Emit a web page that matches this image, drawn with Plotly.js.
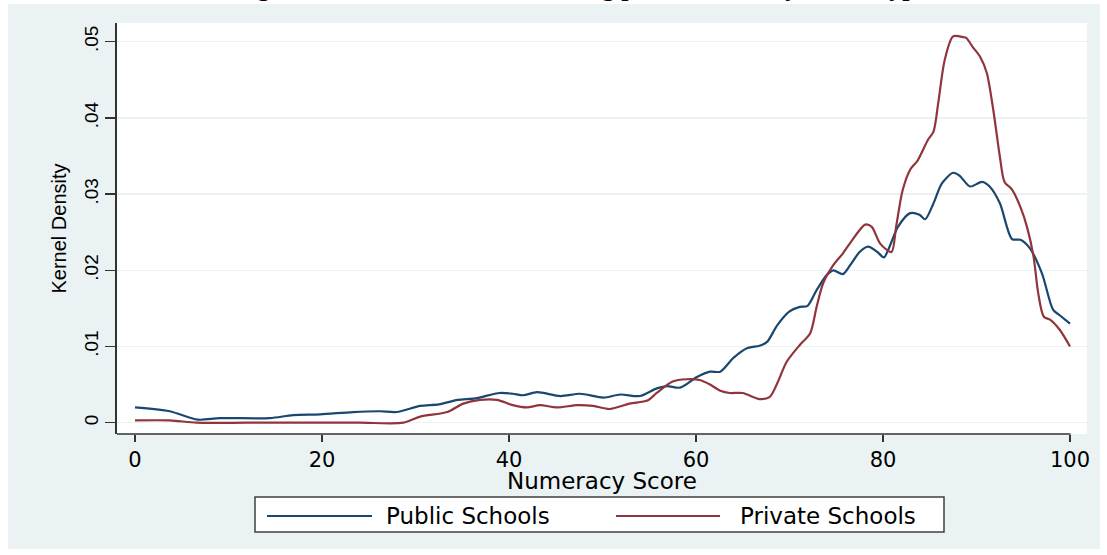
<!DOCTYPE html>
<html>
<head>
<meta charset="utf-8">
<script src="https://cdn.plot.ly/plotly-3.0.1.min.js"></script>
<style>html,body{margin:0;padding:0;background:#fff;}#chart{width:1107px;height:555px;}</style>
</head>
<body>
<div id="chart"></div>
<script>
// Public schools kernel density (numeracy score -> density)
const publicX = [0,3.7,6.7,9.1,14.4,16.9,19.8,23.3,26.2,28.0,30.5,32.5,34.5,36.4,39.0,40.4,41.5,43.0,45.5,47.6,50.1,51.9,54.0,55.8,56.9,58.3,60.1,61.5,62.6,64.0,65.5,66.8,67.6,68.7,70.0,71.1,71.9,72.9,74.0,74.7,75.7,76.5,77.5,78.4,79.4,80.1,80.7,81.6,82.9,83.9,84.5,85.4,86.3,87.5,88.2,89.3,90.6,91.4,92.5,93.8,94.7,95.7,97.0,98.2,98.9,100];
const publicY = [.0020,.0015,.0004,.0006,.0006,.0010,.0011,.0014,.0015,.0014,.0022,.0024,.0030,.0032,.0039,.0038,.0036,.0040,.0035,.0038,.0033,.0037,.0035,.0045,.0048,.0046,.0060,.0067,.0067,.0085,.0098,.0101,.0106,.0128,.0146,.0152,.0153,.0174,.0194,.0200,.0195,.0207,.0224,.0231,.0224,.0217,.0231,.0257,.0275,.0273,.0267,.0288,.0314,.0328,.0324,.0310,.0316,.0310,.0288,.0241,.0240,.0229,.0196,.0148,.0141,.0130];
// Private schools kernel density
const privateX = [0,3.7,6.6,12,18,24,28.7,30.5,33.4,35.1,36.9,38.7,40.4,41.9,43.3,45.1,47.3,49.0,50.8,52.9,54.8,55.8,57.5,59.0,60.4,61.5,62.6,63.6,65.0,66.8,67.9,68.7,69.7,71.1,72.2,72.9,73.6,74.7,75.7,76.5,78.1,78.8,79.7,80.9,81.4,82.1,82.9,83.7,84.8,85.4,85.9,86.6,87.5,88.6,88.9,89.6,90.4,91.1,91.8,92.5,93.0,93.8,94.7,95.4,96.1,96.6,97.2,97.9,98.9,100];
const privateY = [.0003,.0003,.0000,.0000,.0000,.0000,.0000,.0008,.0014,.0025,.0030,.0030,.0023,.0020,.0023,.0020,.0023,.0022,.0018,.0025,.0029,.0039,.0054,.0057,.0056,.0050,.0042,.0039,.0039,.0031,.0034,.0052,.0080,.0102,.0117,.0152,.0183,.0207,.0222,.0236,.0260,.0257,.0235,.0224,.0257,.0305,.0332,.0344,.0371,.0382,.0419,.0476,.0507,.0506,.0505,.0493,.0480,.0459,.0410,.0349,.0316,.0306,.0283,.0257,.0218,.0170,.0139,.0135,.0122,.0100];

const xTickVals = [0,20,40,60,80,100];
const xTickText = ["0","20","40","60","80","100"];
const yTickVals = [0,.01,.02,.03,.04,.05];
const yTickText = ["0",".01",".02",".03",".04",".05"];
const seriesNames = ["Public Schools","Private Schools"];
const xTitle = "Numeracy Score";
const yTitle = "Kernel Density";
const captionText = "Figure 5: Distribution of Learning performance by school type";

const blue = "#1a476f", red = "#90353b", bgBlue = "#eaf2f3", axisCol = "#333333";
const W = 1107, H = 555, L = 117, R = 20, T = 23, B = 121;
const pw = W - L - R, ph = H - T - B;
const px2x = p => (p - L) / pw;
const py2y = p => (H - B - p) / ph;

const traces = [
  {x: publicX, y: publicY, name: seriesNames[0], mode: "lines", line: {color: blue, width: 2.2, shape: "spline", smoothing: 0.8}, showlegend: false},
  {x: privateX, y: privateY, name: seriesNames[1], mode: "lines", line: {color: red, width: 2.2, shape: "spline", smoothing: 0.8}, showlegend: false}
];

const shapes = [
  {type: "rect", xref: "paper", yref: "paper", x0: px2x(8), x1: px2x(1100), y0: py2y(549), y1: py2y(4), fillcolor: bgBlue, line: {width: 0}, layer: "below"},
  {type: "rect", xref: "paper", yref: "paper", x0: 0, x1: 1, y0: 0, y1: 1, fillcolor: "#ffffff", line: {width: 0}, layer: "below"},
  // x axis line (spans to the last tick)
  {type: "line", xref: "paper", yref: "paper", x0: 0, x1: px2x(1070.5), y0: 0, y1: 0, line: {color: axisCol, width: 1.6}},
  // legend box and keys
  {type: "rect", xref: "paper", yref: "paper", x0: px2x(255), x1: px2x(944), y0: py2y(532), y1: py2y(497), fillcolor: "#ffffff", line: {color: "#404040", width: 1.5}},
  {type: "line", xref: "paper", yref: "paper", x0: px2x(267), x1: px2x(372), y0: py2y(516), y1: py2y(516), line: {color: blue, width: 2}},
  {type: "line", xref: "paper", yref: "paper", x0: px2x(616), x1: px2x(720), y0: py2y(516), y1: py2y(516), line: {color: red, width: 2}}
];

const annotations = [
  {text: seriesNames[0], xref: "paper", yref: "paper", x: px2x(384), y: py2y(516), xanchor: "left", yanchor: "middle", showarrow: false, font: {family: "DejaVu Sans", size: 23, color: "#000"}},
  {text: seriesNames[1], xref: "paper", yref: "paper", x: px2x(738), y: py2y(516), xanchor: "left", yanchor: "middle", showarrow: false, font: {family: "DejaVu Sans", size: 23, color: "#000"}},
  {text: xTitle, xref: "paper", yref: "paper", x: px2x(602), y: py2y(481), xanchor: "center", yanchor: "middle", showarrow: false, borderpad: 0, font: {family: "DejaVu Sans", size: 23, color: "#000"}},
  {text: "<b>" + captionText + "</b>", xref: "paper", yref: "paper", x: px2x(232), y: py2y(4.5), xanchor: "left", yanchor: "bottom", showarrow: false, font: {family: "Liberation Serif", size: 26, color: "#000"}}
];

const layout = {
  width: W, height: H,
  margin: {l: L, r: R, t: T, b: B, pad: 0},
  paper_bgcolor: "#ffffff",
  plot_bgcolor: "rgba(0,0,0,0)",
  showlegend: false,
  xaxis: {
    range: [(L - 135) / 9.35, (L + pw - 135) / 9.35],
    tickvals: xTickVals, ticktext: xTickText,
    ticks: "outside", ticklen: 7, tickwidth: 1.5, tickcolor: axisCol,
    showgrid: false, zeroline: false, showline: false,
    tickfont: {family: "DejaVu Sans", size: 21, color: "#000"},
    automargin: false
  },
  yaxis: {
    range: [(422.7 - (H - B)) / 7620, (422.7 - T) / 7620],
    tickvals: yTickVals, ticktext: yTickText,
    tickangle: -90,
    ticks: "outside", ticklen: 10, tickwidth: 1.5, tickcolor: axisCol,
    showgrid: true, gridcolor: bgBlue, gridwidth: 1.5,
    zeroline: false, showline: true, linecolor: axisCol, linewidth: 1.6,
    tickfont: {family: "Liberation Sans", size: 19, color: "#000"},
    title: {text: yTitle, font: {family: "Liberation Sans", size: 20, color: "#000"}, standoff: 9},
    automargin: false
  },
  shapes: shapes,
  annotations: annotations
};

Plotly.newPlot("chart", traces, layout, {displayModeBar: false, staticPlot: true});
</script>
</body>
</html>
